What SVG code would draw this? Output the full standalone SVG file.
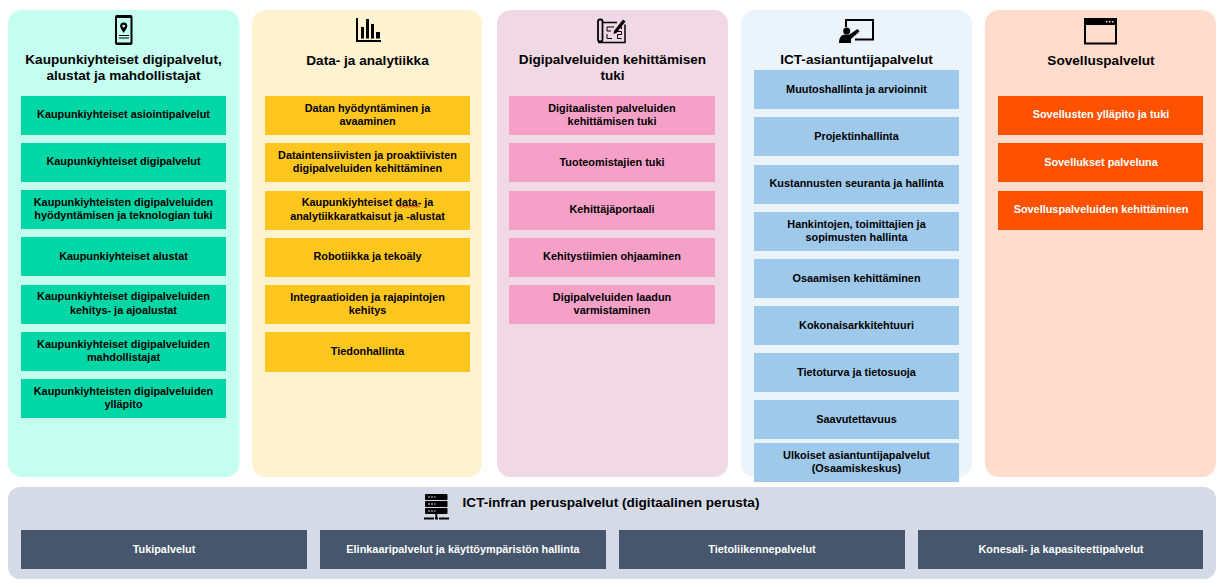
<svg xmlns="http://www.w3.org/2000/svg" width="1226" height="587" viewBox="0 0 1226 587">
<style>
text{font-family:"Liberation Sans",Arial,sans-serif;font-weight:bold;text-anchor:middle}
.t{font-size:13.6px;fill:#000}
.b{font-size:10.88px;fill:#000}
.w{font-size:10.88px;fill:#fff}
.c1{fill:#00d6a6}.c2{fill:#ffc61e}.c3{fill:#f5a0c6}.c4{fill:#9fc9ea}.c5{fill:#ff5200}.c6{fill:#46566c}
</style>
<rect width="1226" height="587" fill="#fff"/>
<g id="col1">
<rect x="8" y="10" width="231.500" height="467" rx="14" fill="#c4fff0"/>
<g id="icon1"><path fill-rule="evenodd" d="M117 15h13.500a2 2 0 0 1 2 2v26a2 2 0 0 1-2 2h-13.500a2 2 0 0 1-2-2v-26a2 2 0 0 1 2-2zM117 18v24.500h13.500v-24.500z"/><path fill-rule="evenodd" d="M123.700 22.500a3.600 3.600 0 0 1 3.600 3.600c0 2-2 4-3.600 7c-1.600-3-3.600-5-3.600-7a3.600 3.600 0 0 1 3.600-3.600zM123.700 24.700a1.400 1.400 0 1 0 .01 0z"/><path d="M119 35.500h10M119 38h10" stroke="#000" stroke-width="1" fill="none"/></g>
<text class="t" x="123.500" y="64">Kaupunkiyhteiset digipalvelut,</text>
<text class="t" x="123.500" y="80">alustat ja mahdollistajat</text>
<rect class="c1" x="21" y="96" width="205" height="39"/><text class="b" x="123.500" y="118">Kaupunkiyhteiset asiointipalvelut</text>
<rect class="c1" x="21" y="143" width="205" height="39"/><text class="b" x="123.500" y="165">Kaupunkiyhteiset digipalvelut</text>
<rect class="c1" x="21" y="190" width="205" height="39"/><text class="b" x="123.500" y="206">Kaupunkiyhteisten digipalveluiden</text><text class="b" x="123.500" y="219">hyödyntämisen ja teknologian tuki</text>
<rect class="c1" x="21" y="237" width="205" height="39"/><text class="b" x="123.500" y="260">Kaupunkiyhteiset alustat</text>
<rect class="c1" x="21" y="285" width="205" height="39"/><text class="b" x="123.500" y="300">Kaupunkiyhteiset digipalveluiden</text><text class="b" x="123.500" y="314">kehitys- ja ajoalustat</text>
<rect class="c1" x="21" y="332" width="205" height="39"/><text class="b" x="123.500" y="348">Kaupunkiyhteiset digipalveluiden</text><text class="b" x="123.500" y="361">mahdollistajat</text>
<rect class="c1" x="21" y="379" width="205" height="39"/><text class="b" x="123.500" y="395">Kaupunkiyhteisten digipalveluiden</text><text class="b" x="123.500" y="408">ylläpito</text>
</g>
<g id="col2">
<rect x="252" y="10" width="230" height="467" rx="14" fill="#fef2d0"/>
<g id="icon2"><path d="M357 18v23h24" fill="none" stroke="#000" stroke-width="2"/><path d="M361 27h3v11.500h-3zM366 19h3v19.500h-3zM371 24h3v14.500h-3zM376 32h4v6.500h-4z"/></g>
<text class="t" x="367.500" y="65">Data- ja analytiikka</text>
<rect class="c2" x="265" y="96" width="205" height="39"/><text class="b" x="367.500" y="112">Datan hyödyntäminen ja</text><text class="b" x="367.500" y="125">avaaminen</text>
<rect class="c2" x="265" y="143" width="205" height="39"/><text class="b" x="367.500" y="159">Dataintensiivisten ja proaktiivisten</text><text class="b" x="367.500" y="172">digipalveluiden kehittäminen</text>
<rect class="c2" x="265" y="191" width="205" height="39"/><text class="b" x="367.500" y="206">Kaupunkiyhteiset data- ja</text><text class="b" x="367.500" y="220">analytiikkaratkaisut ja -alustat</text><path d="M397 207.500l2-1.500 2 1.500 2-1.500 2 1.500 2-1.500 2 1.500 2-1.500 2 1.500 2-1.500 2 1.500 2-1.500 1 1" fill="none" stroke="#e02020" stroke-width=".8"/>
<rect class="c2" x="265" y="238" width="205" height="39"/><text class="b" x="367.500" y="260">Robotiikka ja tekoäly</text>
<rect class="c2" x="265" y="285" width="205" height="39"/><text class="b" x="367.500" y="301">Integraatioiden ja rajapintojen</text><text class="b" x="367.500" y="314">kehitys</text>
<rect class="c2" x="265" y="332" width="205" height="40"/><text class="b" x="367.500" y="355">Tiedonhallinta</text>
</g>
<g id="col3">
<rect x="497" y="10" width="231" height="467" rx="14" fill="#f0d8e4"/>
<g id="icon3"><rect x="598" y="19.500" width="4.500" height="22" rx="2" fill="none" stroke="#000" stroke-width="1.800"/><path d="M603 22.500h14M598 42.500h27v-18" fill="none" stroke="#000" stroke-width="1.500"/><path d="M607 27h7M607 27v4h4M607 34v4.500h5M615 31.500h6.500v3h-4v4h4M618 27h3.500v2" fill="none" stroke="#000" stroke-width="1"/><path d="M614 31l9-11.500 2.500 2-9 11.500-3 1z"/></g>
<text class="t" x="612.500" y="64">Digipalveluiden kehittämisen</text>
<text class="t" x="612.500" y="80">tuki</text>
<rect class="c3" x="509" y="96" width="206" height="39"/><text class="b" x="612" y="112">Digitaalisten palveluiden</text><text class="b" x="612" y="125">kehittämisen tuki</text>
<rect class="c3" x="509" y="143" width="206" height="39"/><text class="b" x="612" y="166">Tuoteomistajien tuki</text>
<rect class="c3" x="509" y="191" width="206" height="39"/><text class="b" x="612" y="213">Kehittäjäportaali</text>
<rect class="c3" x="509" y="238" width="206" height="39"/><text class="b" x="612" y="260">Kehitystiimien ohjaaminen</text>
<rect class="c3" x="509" y="285" width="206" height="39"/><text class="b" x="612" y="301">Digipalveluiden laadun</text><text class="b" x="612" y="314">varmistaminen</text>
</g>
<g id="col4">
<rect x="741" y="10" width="231" height="467" rx="14" fill="#ebf3fb"/>
<g id="icon4"><path d="M846 27v-7h27v19.500h-18" fill="none" stroke="#000" stroke-width="2"/><circle cx="846.700" cy="31" r="3.500"/><path d="M839 43c0-5 2-8.500 6-8.500h4.500l8-5.500 2 2.500-8.500 7.500v4z"/></g>
<text class="t" x="856.500" y="64">ICT-asiantuntijapalvelut</text>
<rect class="c4" x="754" y="70" width="205" height="39"/><text class="b" x="856.500" y="93">Muutoshallinta ja arvioinnit</text>
<rect class="c4" x="754" y="117" width="205" height="39"/><text class="b" x="856.500" y="140">Projektinhallinta</text>
<rect class="c4" x="754" y="165" width="205" height="39"/><text class="b" x="856.500" y="187">Kustannusten seuranta ja hallinta</text>
<rect class="c4" x="754" y="212" width="205" height="39"/><text class="b" x="856.500" y="228">Hankintojen, toimittajien ja</text><text class="b" x="856.500" y="241">sopimusten hallinta</text>
<rect class="c4" x="754" y="259" width="205" height="39"/><text class="b" x="856.500" y="282">Osaamisen kehittäminen</text>
<rect class="c4" x="754" y="306" width="205" height="39"/><text class="b" x="856.500" y="329">Kokonaisarkkitehtuuri</text>
<rect class="c4" x="754" y="353" width="205" height="39"/><text class="b" x="856.500" y="376">Tietoturva ja tietosuoja</text>
<rect class="c4" x="754" y="400" width="205" height="39"/><text class="b" x="856.500" y="423">Saavutettavuus</text>
<rect class="c4" x="754" y="443" width="205" height="39"/><text class="b" x="856.500" y="459">Ulkoiset asiantuntijapalvelut</text><text class="b" x="856.500" y="472">(Osaamiskeskus)</text>
</g>
<g id="col5">
<rect x="985" y="10" width="231" height="467" rx="14" fill="#ffdccc"/>
<g id="icon5"><rect x="1085" y="19" width="31" height="24.500" fill="none" stroke="#000" stroke-width="2"/><rect x="1084" y="18" width="33" height="7"/><path d="M1106 21.700h1.500M1109 21.700h1.500M1112 21.700h1.500" stroke="#ffdccc" stroke-width="1.400"/></g>
<text class="t" x="1101" y="65">Sovelluspalvelut</text>
<rect class="c5" x="998" y="96" width="205" height="39"/><text class="w" x="1101" y="118">Sovellusten ylläpito ja tuki</text>
<rect class="c5" x="998" y="143" width="205" height="39"/><text class="w" x="1101" y="166">Sovellukset palveluna</text>
<rect class="c5" x="998" y="191" width="205" height="39"/><text class="w" x="1101" y="213">Sovelluspalveluiden kehittäminen</text>
</g>
<g id="col6">
<rect x="8" y="487" width="1208" height="92" rx="12" fill="#d4dbe6"/>
<g id="icon6"><rect x="425" y="494" width="22.500" height="6" rx="1"/><rect x="425" y="501" width="22.500" height="6" rx="1"/><rect x="425" y="508" width="22.500" height="6" rx="1"/><path d="M436.300 514v4" stroke="#000" stroke-width="2" fill="none"/><path d="M424 518.500h10M439 518.500h10M435 518.500h3" stroke="#000" stroke-width="2" fill="none"/><path d="M428 497h2M431 497h2M434 497h1.500M428 504h2M431 504h2M434 504h1.500M428 511h2M431 511h2M434 511h1.500" stroke="#d4dbe6" stroke-width="1"/></g>
<text class="t" x="611" y="507">ICT-infran peruspalvelut (digitaalinen perusta)</text>
<rect class="c6" x="21" y="530" width="286" height="39"/><text class="w" x="164" y="553">Tukipalvelut</text>
<rect class="c6" x="320" y="530" width="286" height="39"/><text class="w" x="463" y="553">Elinkaaripalvelut ja käyttöympäristön hallinta</text>
<rect class="c6" x="619" y="530" width="286" height="39"/><text class="w" x="762" y="553">Tietoliikennepalvelut</text>
<rect class="c6" x="918" y="530" width="285" height="39"/><text class="w" x="1061" y="553">Konesali- ja kapasiteettipalvelut</text>
</g>
<g id="connectors"/>
</svg>
